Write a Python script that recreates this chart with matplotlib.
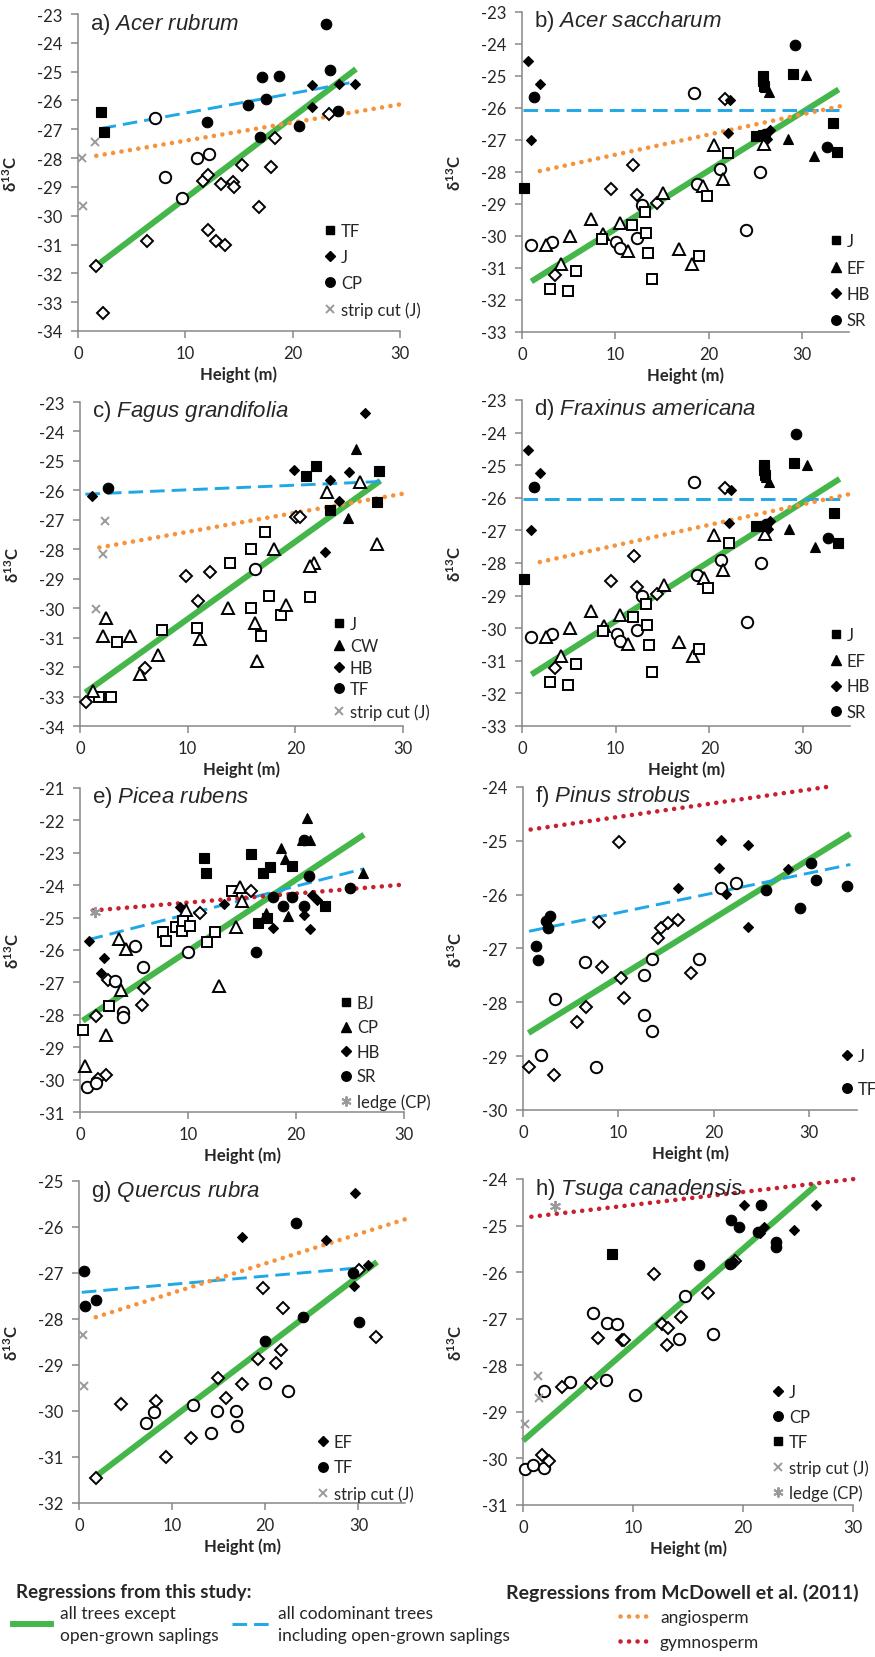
import matplotlib
matplotlib.use('Agg')
import matplotlib.pyplot as plt
from matplotlib.lines import Line2D

plt.rcParams['font.family'] = ['Lato', 'DejaVu Sans']
plt.rcParams['mathtext.fontset'] = 'custom'
plt.rcParams['mathtext.rm'] = 'Lato'
plt.rcParams['mathtext.it'] = 'Liberation Sans:italic'
plt.rcParams['mathtext.bf'] = 'Lato:bold'
plt.rcParams['axes.unicode_minus'] = False

# ---- data: (height m, d13C) ----
# a) Acer rubrum
a_TF = [(2.1, -26.39), (2.4, -27.11)]
a_J = [(21.8, -25.47), (21.8, -26.24), (24.3, -25.43), (25.8, -25.43)]
a_CP = [(23.1, -23.35), (23.5, -24.94), (17.1, -25.2), (18.7, -25.16), (17.5, -25.95),
        (15.8, -26.16), (12.0, -26.74), (17.0, -27.28), (20.6, -26.9), (24.2, -26.37)]
a_open_circ = [(7.2, -26.62), (11.1, -28.01), (12.2, -27.87), (8.1, -28.67), (9.7, -29.38)]
a_open_diam = [(1.7, -31.74), (2.3, -33.36), (6.4, -30.89), (11.6, -28.79), (12.1, -28.58),
               (13.3, -28.9), (14.4, -28.82), (14.5, -29.02), (15.3, -28.23), (12.1, -30.5),
               (12.9, -30.89), (13.7, -31.0), (16.9, -29.69), (18.0, -28.3), (18.4, -27.32),
               (23.4, -26.47)]
a_strip = [(1.6, -27.43), (0.4, -28.01), (0.5, -29.67)]

# b) Acer saccharum
b_J = [(0.2, -28.49), (29.0, -24.93), (33.3, -26.47), (33.7, -27.38), (25.8, -25.0),
       (25.8, -25.15), (25.9, -25.3), (25.0, -26.88), (25.8, -26.85)]
b_EF = [(30.4, -24.98), (28.5, -26.96), (31.3, -27.5), (26.0, -25.35), (26.4, -25.5)]
b_HB = [(0.6, -24.54), (1.9, -25.25), (1.0, -26.99), (22.1, -26.78), (22.3, -25.76),
        (26.5, -26.7), (26.2, -26.96)]
b_SR = [(29.2, -24.04), (1.25, -25.67), (32.6, -27.22), (26.0, -26.8)]
b_open_circ = [(1.0, -30.27), (3.2, -30.19), (18.4, -25.53), (21.2, -27.9), (25.5, -28.0),
               (24.0, -29.8), (10.1, -30.19), (10.5, -30.38), (12.3, -30.06), (18.7, -28.36),
               (12.8, -29.02)]
b_open_diam = [(3.5, -31.21), (9.5, -28.54), (11.9, -27.77), (12.3, -28.73), (14.4, -28.96),
               (21.7, -25.71)]
b_open_tri = [(2.6, -30.27), (4.2, -30.86), (5.1, -30.0), (7.4, -29.48), (8.7, -29.93),
              (10.5, -29.58), (11.3, -30.48), (15.1, -28.66), (16.8, -30.42), (18.2, -30.86),
              (19.4, -28.45), (20.5, -27.15), (21.5, -28.23), (25.9, -27.11)]
b_open_sq = [(3.0, -31.65), (4.9, -31.73), (5.8, -31.09), (8.6, -30.1), (11.8, -29.67),
             (13.2, -29.25), (13.3, -29.9), (13.5, -30.53), (13.9, -31.33), (18.9, -30.63),
             (19.8, -28.76), (22.1, -27.4)]

# c) Fagus grandifolia
c_J = [(21.0, -25.5), (21.9, -25.16), (27.8, -25.33), (27.6, -26.39), (23.2, -26.67)]
c_CW = [(25.6, -24.61), (24.9, -26.94)]
c_HB = [(1.1, -26.18), (19.9, -25.31), (23.2, -25.65), (24.1, -26.35), (25.0, -25.39),
        (26.5, -23.36), (22.8, -28.08)]
c_TF = [(2.6, -25.93)]
c_strip = [(2.3, -27.03), (2.1, -28.17), (1.5, -30.02)]
c_open_sq = [(1.8, -33.02), (2.9, -33.02), (3.4, -31.16), (7.6, -30.73), (10.9, -30.67),
             (13.9, -28.48), (15.9, -27.98), (17.2, -27.43), (15.9, -29.99), (17.6, -29.59),
             (18.7, -30.22), (16.8, -30.93), (21.4, -29.61)]
c_open_tri = [(2.4, -30.33), (2.1, -30.93), (4.6, -30.93), (7.2, -31.58), (5.6, -32.24),
              (11.1, -31.05), (13.7, -29.99), (16.3, -30.5), (16.4, -31.81), (18.0, -28.0),
              (19.1, -29.88), (21.7, -28.45), (21.4, -28.57), (22.9, -26.07), (26.0, -25.73),
              (27.6, -27.83), (1.2, -32.82)]
c_open_diam = [(0.6, -33.17), (6.0, -32.03), (9.8, -28.91), (12.1, -28.76), (11.0, -29.74),
               (20.1, -26.9), (20.4, -26.9)]
c_open_circ = [(16.3, -28.68)]

# d) Fraxinus americana (the source panel repeats the points of panel b)
d_J, d_EF, d_HB, d_SR = b_J, b_EF, b_HB, b_SR
d_open_circ, d_open_diam, d_open_tri, d_open_sq = b_open_circ, b_open_diam, b_open_tri, b_open_sq

# e) Picea rubens
e_BJ = [(11.5, -23.16), (11.7, -23.62), (15.8, -23.03), (16.9, -23.62), (17.6, -23.44),
        (19.6, -23.41), (22.7, -24.63), (16.5, -25.16), (17.3, -25.02)]
e_CP = [(21.0, -21.93), (20.6, -22.62), (21.3, -22.62), (18.6, -22.85), (19.0, -23.18),
        (26.2, -23.63), (19.3, -24.95), (17.2, -24.86)]
e_HB = [(0.8, -25.71), (2.2, -26.24), (1.9, -26.71), (9.3, -24.68), (13.3, -24.59),
        (17.9, -25.32), (20.7, -24.93), (21.3, -25.35), (21.5, -24.3), (21.9, -24.45)]
e_SR = [(20.7, -22.62), (21.2, -23.72), (17.9, -24.35), (19.6, -24.35), (18.8, -24.63),
        (20.7, -24.63), (25.0, -24.09), (16.3, -26.07)]
e_ledge = [(1.4, -24.83)]
e_open_sq = [(0.3, -28.46), (2.7, -27.74), (7.7, -25.45), (8.0, -25.71), (8.9, -25.29),
             (9.4, -25.4), (9.5, -25.09), (10.2, -25.27), (11.8, -25.76), (12.5, -25.45),
             (14.1, -24.18)]
e_open_tri = [(3.6, -25.66), (4.3, -25.98), (3.8, -27.22), (2.4, -28.62), (0.5, -29.59),
              (9.8, -24.75), (14.8, -24.06), (15.0, -24.5), (14.4, -25.29), (12.9, -27.1)]
e_open_diam = [(2.6, -26.94), (1.5, -28.04), (5.9, -27.18), (5.7, -27.69), (11.1, -24.85),
               (15.8, -24.19), (2.4, -29.86), (1.7, -29.98)]
e_open_circ = [(3.2, -26.97), (5.1, -25.88), (5.8, -26.53), (4.0, -27.92), (4.0, -28.08),
               (10.0, -26.07), (0.65, -30.23), (1.5, -30.1)]

# f) Pinus strobus
f_J = [(20.7, -24.99), (23.6, -25.08), (20.5, -25.5), (16.2, -25.88), (21.3, -25.98),
       (27.8, -25.52), (23.6, -26.6)]
f_TF = [(1.35, -26.96), (1.6, -27.22), (2.8, -26.4), (2.4, -26.48), (2.6, -26.62),
        (25.5, -25.91), (30.2, -25.41), (30.7, -25.73), (29.0, -26.24), (34.0, -25.83)]
f_open_circ = [(6.5, -27.25), (3.4, -27.93), (1.9, -28.98), (12.7, -27.49), (12.7, -28.23),
               (13.5, -27.19), (18.4, -27.2), (20.7, -25.88), (22.3, -25.78), (7.7, -29.2),
               (13.5, -28.54)]
f_open_diam = [(10.1, -25.02), (8.0, -26.5), (8.3, -27.35), (6.6, -28.09), (5.7, -28.37),
               (10.3, -27.55), (10.6, -27.92), (14.1, -26.81), (14.5, -26.62), (15.2, -26.52),
               (16.2, -26.47), (17.6, -27.45), (0.64, -29.2), (3.3, -29.35)]

# g) Quercus rubra
g_EF = [(29.6, -25.27), (17.5, -26.21), (26.5, -26.28), (29.5, -27.29), (31.0, -26.82)]
g_TF = [(0.5, -26.95), (0.6, -27.72), (1.8, -27.58), (23.3, -25.92), (24.1, -27.95),
        (20.0, -28.48), (29.4, -26.99), (30.1, -28.06)]
g_strip = [(0.4, -28.34), (0.5, -29.46)]
g_open_diam = [(4.5, -29.84), (8.3, -29.79), (14.9, -29.28), (15.8, -29.72), (17.5, -29.42),
               (19.2, -28.88), (21.2, -28.95), (19.8, -27.33), (21.9, -27.77), (21.7, -28.68),
               (31.9, -28.4), (30.1, -26.93), (12.0, -30.58), (9.3, -30.99), (1.8, -31.45)]
g_open_circ = [(8.1, -30.02), (7.2, -30.27), (12.2, -29.88), (14.8, -30.0), (16.9, -30.0),
               (17.0, -30.33), (20.0, -29.39), (22.4, -29.57), (14.2, -30.48)]

# h) Tsuga canadensis
h_J = [(20.1, -24.56), (26.6, -24.56), (24.6, -25.09), (21.9, -25.04), (21.5, -25.16),
       (19.1, -25.77)]
h_CP = [(21.6, -24.55), (18.9, -24.89), (19.6, -25.02), (23.0, -25.36), (23.0, -25.46),
        (16.0, -25.84), (18.8, -25.82), (21.4, -25.14)]
h_TF = [(8.05, -25.62)]
h_ledge = [(2.95, -24.59)]
h_strip = [(1.37, -28.24), (1.46, -28.7), (0.15, -29.26)]
h_open_circ = [(6.4, -26.88), (7.6, -27.09), (8.5, -27.11), (4.3, -28.36), (7.5, -28.31),
               (10.2, -28.64), (14.7, -26.51), (14.2, -27.44), (17.3, -27.32), (1.9, -28.56),
               (0.15, -30.22), (0.9, -30.15), (1.9, -30.2)]
h_open_diam = [(11.9, -26.05), (6.8, -27.41), (9.0, -27.46), (9.2, -27.46), (12.6, -27.11),
               (13.2, -27.21), (13.1, -27.57), (14.4, -26.96), (16.8, -26.45), (3.5, -28.46),
               (6.2, -28.39), (19.3, -25.77), (1.7, -29.93), (2.4, -30.06)]

# regression lines: ([x0, x1], [y0, y1])
a_green, a_blue, a_orange = ([1.7, 25.9], [-31.74, -24.91]), ([2.2, 25.6], [-26.97, -25.37]), ([1.7, 30.1], [-27.92, -26.13])
b_green, b_blue, b_orange = ([1.0, 33.9], [-31.42, -25.42]), ([0.1, 33.9], [-26.05, -26.05]), ([1.9, 34.9], [-27.97, -25.89])
c_green, c_blue, c_orange = ([0.5, 27.9], [-32.86, -25.67]), ([0.5, 27.9], [-26.13, -25.7]), ([1.8, 30.2], [-27.94, -26.1])
d_green, d_blue, d_orange = b_green, b_blue, b_orange
e_green, e_blue, e_red = ([0.25, 26.3], [-28.18, -22.44]), ([0.8, 26.3], [-25.68, -23.49]), ([1.2, 30.0], [-24.78, -23.98])
f_green, f_blue, f_red = ([0.57, 34.3], [-28.57, -24.87]), ([0.64, 34.3], [-26.68, -25.44]), ([0.8, 31.8], [-24.79, -24.0])
g_green, g_blue, g_orange = ([1.8, 32.0], [-31.42, -26.76]), ([0.3, 30.5], [-27.42, -26.88]), ([1.8, 35.2], [-27.96, -25.82])
h_green, h_red = ([0.0, 26.6], [-29.62, -24.14]), ([0.76, 30.1], [-24.81, -24.0])

# ---- styles ----
W, H = 875, 1658
TXT = '#262626'
AXC = '#878787'
GREY = '#9a9a9a'
GREEN = '#45b649'
BLUE = '#1fa7e6'
ORANGE = '#f7923a'
RED = '#c8202f'
ASTER = (6, 2, 0)
DOTS = (0, (0.01, 1.85))

MK = {'s': 6.8, 'D': 5.4, 'o': 7.6, '^': 7.4, 'x': 5.8, ASTER: 8.0}

fig = plt.figure(figsize=(W / 100, H / 100), dpi=100)
fig.patch.set_facecolor('white')


def add_panel(L, R, T, B, xmax, ylo, yhi, title, species):
    ax = fig.add_axes([L / W, 1 - B / H, (R - L) / W, (B - T) / H])
    ax.set_xlim(0, xmax)
    ax.set_ylim(ylo, yhi)
    ax.set_xticks([0, 10, 20, 30])
    ax.set_yticks(range(ylo, yhi + 1))
    for s in ['top', 'right']:
        ax.spines[s].set_visible(False)
    for s in ['left', 'bottom']:
        ax.spines[s].set_color(AXC)
        ax.spines[s].set_linewidth(1.1)
    ax.tick_params(direction='out', length=5, width=1.1, color=AXC,
                   labelsize=12, labelcolor=TXT)
    ax.tick_params(axis='y', pad=6)
    ax.tick_params(axis='x', pad=5)
    ax.set_xlabel('Height (m)', fontsize=12, fontweight='bold', color=TXT)
    ax.xaxis.set_label_coords(0.5, -34 / (B - T))
    ax.set_ylabel('δ$^{\\mathbf{13}}$C', fontsize=12, fontweight='bold', color=TXT)
    ax.yaxis.set_label_coords(-58 / (R - L), 0.5)
    ax.text(12 / (R - L), 1 - 9 / (B - T), title + ' $\\mathit{' + species.replace(' ', '\\ ') + '}$',
            transform=ax.transAxes, ha='left', va='center', fontsize=16,
            family='Liberation Sans', color=TXT)
    return ax


def pts(ax, data, marker, filled=True, color='black'):
    xs = [p[0] for p in data]
    ys = [p[1] for p in data]
    if marker in ('x', ASTER):
        ax.plot(xs, ys, linestyle='none', marker=marker, markersize=MK[marker],
                color=GREY, markeredgewidth=1.4, clip_on=False, zorder=3)
    elif filled:
        ax.plot(xs, ys, linestyle='none', marker=marker, markersize=MK[marker],
                markerfacecolor=color, markeredgecolor='black',
                markeredgewidth=0.8, clip_on=False, zorder=3)
    else:
        ax.plot(xs, ys, linestyle='none', marker=marker, markersize=MK[marker] * 1.08,
                markerfacecolor='white', markeredgecolor='black',
                markeredgewidth=1.4, clip_on=False, zorder=3)


def reg(ax, line, kind):
    x, y = line
    if kind == 'green':
        ax.plot(x, y, color=GREEN, lw=4.3, solid_capstyle='butt', zorder=2, clip_on=False)
    elif kind == 'blue':
        ax.plot(x, y, color=BLUE, lw=2.1, linestyle=(0, (5.0, 2.4)), zorder=2, clip_on=False)
    else:
        ax.plot(x, y, color=ORANGE if kind == 'orange' else RED, lw=3.3,
                linestyle=DOTS, dash_capstyle='round', zorder=2, clip_on=False)


def site_legend(ax, entries, x_px, y_px, pitch):
    fs = 12
    fs_px = fs * 100 / 72
    handles = []
    for m, _ in entries:
        if m in ('x', ASTER):
            handles.append(Line2D([], [], linestyle='none', marker=m, markersize=MK[m] * 0.9,
                                  color=GREY, markeredgewidth=1.4))
        else:
            handles.append(Line2D([], [], linestyle='none', marker=m, markersize=MK[m] * 0.9,
                                  markerfacecolor='black', markeredgecolor='black'))
    labels = [lab for _, lab in entries]
    ax.legend(handles, labels, loc='upper left',
              bbox_to_anchor=((x_px - 0.4 * fs_px) / W, 1 - (y_px - 8) / H),
              bbox_transform=fig.transFigure, frameon=False, borderpad=0,
              borderaxespad=0, handlelength=0.8, handletextpad=0.25,
              labelspacing=(pitch - 16) / fs_px, fontsize=fs, labelcolor=TXT)


# a
ax = add_panel(78, 400, 15, 332, 30, -34, -23, 'a)', 'Acer rubrum')
reg(ax, a_green, 'green'); reg(ax, a_blue, 'blue'); reg(ax, a_orange, 'orange')
pts(ax, a_open_circ, 'o', False); pts(ax, a_open_diam, 'D', False)
pts(ax, a_TF, 's'); pts(ax, a_J, 'D'); pts(ax, a_CP, 'o'); pts(ax, a_strip, 'x')
site_legend(ax, [('s', 'TF'), ('D', 'J'), ('o', 'CP'), ('x', 'strip cut (J)')], 330, 232, 26)

# b and d
for (L, R, T, B, tl, sp, leg_y, pitch, parts) in [
        (522, 849, 13, 333, 'b)', 'Acer saccharum', 242, 26.5,
         (b_green, b_blue, b_orange, b_open_circ, b_open_diam, b_open_tri, b_open_sq, b_J, b_EF, b_HB, b_SR)),
        (522, 850, 401, 727, 'd)', 'Fraxinus americana', 636, 25.7,
         (d_green, d_blue, d_orange, d_open_circ, d_open_diam, d_open_tri, d_open_sq, d_J, d_EF, d_HB, d_SR))]:
    gl, bl, ol, oc, od, ot, osq, J, EF, HB, SR = parts
    ax = add_panel(L, R, T, B, 35, -33, -23, tl, sp)
    reg(ax, gl, 'green'); reg(ax, bl, 'blue'); reg(ax, ol, 'orange')
    pts(ax, oc, 'o', False); pts(ax, od, 'D', False); pts(ax, ot, '^', False); pts(ax, osq, 's', False)
    pts(ax, J, 's'); pts(ax, EF, '^'); pts(ax, HB, 'D'); pts(ax, SR, 'o')
    site_legend(ax, [('s', 'J'), ('^', 'EF'), ('D', 'HB'), ('o', 'SR')], 836, leg_y, pitch)

# c
ax = add_panel(80, 403, 403, 727, 30, -34, -23, 'c)', 'Fagus grandifolia')
reg(ax, c_green, 'green'); reg(ax, c_blue, 'blue'); reg(ax, c_orange, 'orange')
pts(ax, c_open_sq, 's', False); pts(ax, c_open_tri, '^', False)
pts(ax, c_open_diam, 'D', False); pts(ax, c_open_circ, 'o', False)
pts(ax, c_J, 's'); pts(ax, c_CW, '^'); pts(ax, c_HB, 'D'); pts(ax, c_TF, 'o'); pts(ax, c_strip, 'x')
site_legend(ax, [('s', 'J'), ('^', 'CW'), ('D', 'HB'), ('o', 'TF'), ('x', 'strip cut (J)')],
            339, 625, 21.75)

# e
ax = add_panel(80, 404, 789, 1113, 30, -31, -21, 'e)', 'Picea rubens')
reg(ax, e_green, 'green'); reg(ax, e_blue, 'blue'); reg(ax, e_red, 'red')
pts(ax, e_open_sq, 's', False); pts(ax, e_open_tri, '^', False)
pts(ax, e_open_diam, 'D', False); pts(ax, e_open_circ, 'o', False)
pts(ax, e_BJ, 's'); pts(ax, e_CP, '^'); pts(ax, e_HB, 'D'); pts(ax, e_SR, 'o'); pts(ax, e_ledge, ASTER)
site_legend(ax, [('s', 'BJ'), ('^', 'CP'), ('D', 'HB'), ('o', 'SR'), (ASTER, 'ledge (CP)')],
            346, 1004, 24.5)

# f
ax = add_panel(523, 857, 788, 1111, 35, -30, -24, 'f)', 'Pinus strobus')
reg(ax, f_green, 'green'); reg(ax, f_blue, 'blue'); reg(ax, f_red, 'red')
pts(ax, f_open_circ, 'o', False); pts(ax, f_open_diam, 'D', False)
pts(ax, f_J, 'D'); pts(ax, f_TF, 'o')
site_legend(ax, [('D', 'J'), ('o', 'TF')], 847, 1057, 33)

# g
ax = add_panel(79, 405, 1182, 1504, 35, -32, -25, 'g)', 'Quercus rubra')
reg(ax, g_green, 'green'); reg(ax, g_blue, 'blue'); reg(ax, g_orange, 'orange')
pts(ax, g_open_diam, 'D', False); pts(ax, g_open_circ, 'o', False)
pts(ax, g_EF, 'D'); pts(ax, g_TF, 'o'); pts(ax, g_strip, 'x')
site_legend(ax, [('D', 'EF'), ('o', 'TF'), ('x', 'strip cut (J)')], 323, 1443, 25.5)

# h
ax = add_panel(523, 853, 1180, 1506, 30, -31, -24, 'h)', 'Tsuga canadensis')
reg(ax, h_green, 'green'); reg(ax, h_red, 'red')
pts(ax, h_open_circ, 'o', False); pts(ax, h_open_diam, 'D', False)
pts(ax, h_J, 'D'); pts(ax, h_CP, 'o'); pts(ax, h_TF, 's'); pts(ax, h_strip, 'x'); pts(ax, h_ledge, ASTER)
site_legend(ax, [('D', 'J'), ('o', 'CP'), ('s', 'TF'), ('x', 'strip cut (J)'), (ASTER, 'ledge (CP)')],
            778, 1393, 25)

# ---- bottom legends ----
fig.text(16 / W, 1 - 1593 / H, 'Regressions from this study:', fontsize=13.5,
         fontweight='bold', color=TXT, ha='left', va='center')
fig.text(506 / W, 1 - 1593 / H, 'Regressions from McDowell et al. (2011)', fontsize=14,
         fontweight='bold', color=TXT, ha='left', va='center')

h_green = Line2D([], [], color=GREEN, lw=4.3)
h_blue = Line2D([], [], color=BLUE, lw=2.1, linestyle=(0, (5.0, 2.4)))
leg = fig.legend([h_green, h_blue],
                 ['all trees except\nopen-grown saplings',
                  'all codominant trees\nincluding open-grown saplings'],
                 ncol=2, loc='center left', bbox_to_anchor=(13 / W, 1 - 1625 / H),
                 frameon=False, borderpad=0, borderaxespad=0, handlelength=2.2,
                 handletextpad=0.5, columnspacing=0.75, fontsize=12.5, labelcolor=TXT)
for t in leg.get_texts():
    t.set_linespacing(1.45)

h_orange = Line2D([], [], color=ORANGE, lw=3.3, linestyle=DOTS, dash_capstyle='round')
h_red = Line2D([], [], color=RED, lw=3.3, linestyle=DOTS, dash_capstyle='round')
fig.legend([h_orange, h_red], ['angiosperm', 'gymnosperm'], loc='upper left',
           bbox_to_anchor=(620 / W, 1 - (1619 - 9) / H), frameon=False, borderpad=0,
           borderaxespad=0, handlelength=1.7, handletextpad=0.6,
           labelspacing=(26 - 17) / 17.4, fontsize=12.5, labelcolor=TXT)

fig.savefig('out.png', dpi=100, facecolor='white')
